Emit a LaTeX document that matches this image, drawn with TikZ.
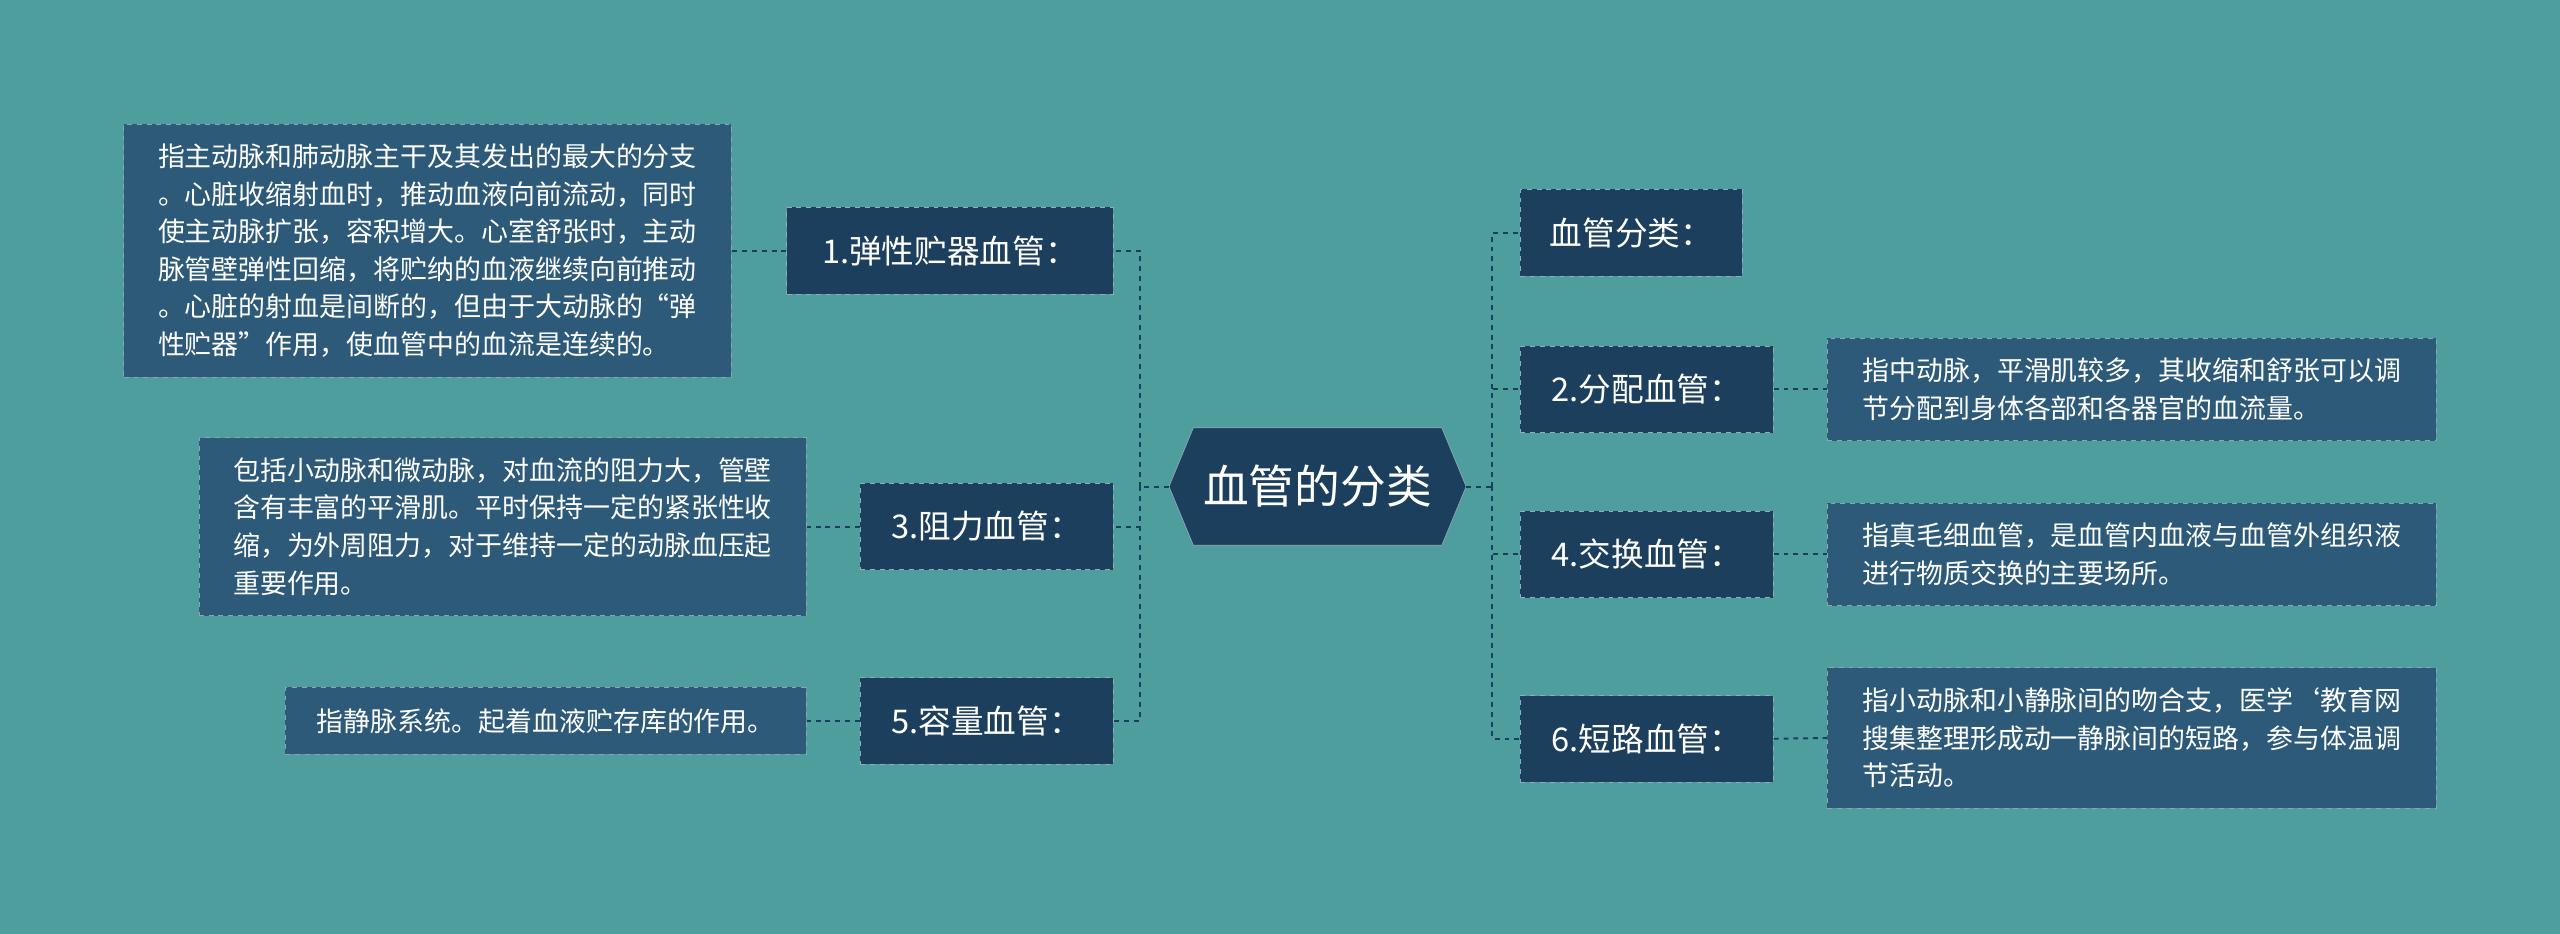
\documentclass[tikz,border=0pt]{standalone}
\usepackage{fontspec}
\setmainfont{Noto Sans CJK SC}
\usetikzlibrary{shapes.symbols}
\definecolor{bg}{HTML}{4E9E9E}
\definecolor{mid}{HTML}{1C3F5E}
\definecolor{leaf}{HTML}{2E5A7A}
\definecolor{ln}{HTML}{1C3F5E}
\tikzset{
 x=1pt,y=-1pt,
 mainnode/.style={draw=white!55!mid,dashed,fill=mid,text=white,font=\fontsize{20}{24}\selectfont,anchor=west,inner sep=0pt,minimum height=53,inner xsep=12pt},
 leafbox/.style={draw=white!45!leaf,dashed,fill=leaf,text=white,font=\fontsize{16.5}{23}\selectfont,align=left,inner xsep=10pt,inner ysep=7pt},
 conn/.style={draw=ln,dashed,line width=1.2pt}
}
\begin{document}
\begin{tikzpicture}
\fill[bg] (0,0) rectangle (1568,572);
\useasboundingbox (0,0) rectangle (1568,572);
\node[signal,signal to=west and east,signal pointer angle=135,fill=mid,draw=white!55!mid,text=white,minimum width=182,minimum height=72,inner sep=0pt,font=\fontsize{28}{32}\selectfont] (c) at (807,298) {血管的分类};
% left nodes
\node[mainnode,anchor=east,minimum width=200] (n1) at (682,153.5) {1.弹性贮器血管：};
\node[mainnode,anchor=east,minimum width=155] (n3) at (682,322.5) {3.阻力血管：};
\node[mainnode,anchor=east,minimum width=155] (n5) at (682,441.5) {5.容量血管：};
% right nodes
\node[mainnode,minimum width=136] (r0) at (931,142.5) {血管分类：};
\node[mainnode,minimum width=155] (r2) at (931,238.5) {2.分配血管：};
\node[mainnode,minimum width=155] (r4) at (931,339.5) {4.交换血管：};
\node[mainnode,minimum width=155] (r6) at (931,452.5) {6.短路血管：};
% leaves
\node[leafbox,anchor=east,minimum width=372,minimum height=155] (l1) at (448,153.5) {指主动脉和肺动脉主干及其发出的最大的分支\\。心脏收缩射血时，推动血液向前流动，同时\\使主动脉扩张，容积增大。心室舒张时，主动\\脉管壁弹性回缩，将贮纳的血液继续向前推动\\。心脏的射血是间断的，但由于大动脉的“弹\\性贮器”作用，使血管中的血流是连续的。};
\node[leafbox,anchor=east,minimum width=372,minimum height=109] (l3) at (494,322.5) {包括小动脉和微动脉，对血流的阻力大，管壁\\含有丰富的平滑肌。平时保持一定的紧张性收\\缩，为外周阻力，对于维持一定的动脉血压起\\重要作用。};
\node[leafbox,anchor=east,minimum width=319,minimum height=41] (l5) at (494,441.5) {指静脉系统。起着血液贮存库的作用。};
\node[leafbox,anchor=west,minimum width=373,minimum height=63] (m2) at (1119,238.5) {指中动脉，平滑肌较多，其收缩和舒张可以调\\节分配到身体各部和各器官的血流量。};
\node[leafbox,anchor=west,minimum width=373,minimum height=63] (m4) at (1119,339.5) {指真毛细血管，是血管内血液与血管外组织液\\进行物质交换的主要场所。};
\node[leafbox,anchor=west,minimum width=373,minimum height=86] (m6) at (1119,452) {指小动脉和小静脉间的吻合支，医学`教育网\\搜集整理形成动一静脉间的短路，参与体温调\\节活动。};
% connectors
\coordinate (jl) at (698,298);
\coordinate (jr) at (914,298);
\draw[conn] (c.west) -- (jl);
\draw[conn] (c.east) -- (jr);
\foreach \n in {n1,n3,n5} \draw[conn] (jl) |- (\n.east);
\foreach \n in {r0,r2,r4,r6} \draw[conn] (jr) |- (\n.west);
\draw[conn] (n1.west) -- (l1.east);
\draw[conn] (n3.west) -- (l3.east);
\draw[conn] (n5.west) -- (l5.east);
\draw[conn] (r2.east) -- (m2.west);
\draw[conn] (r4.east) -- (m4.west);
\draw[conn] (r6.east) -- (m6.west);
\end{tikzpicture}
\end{document}
